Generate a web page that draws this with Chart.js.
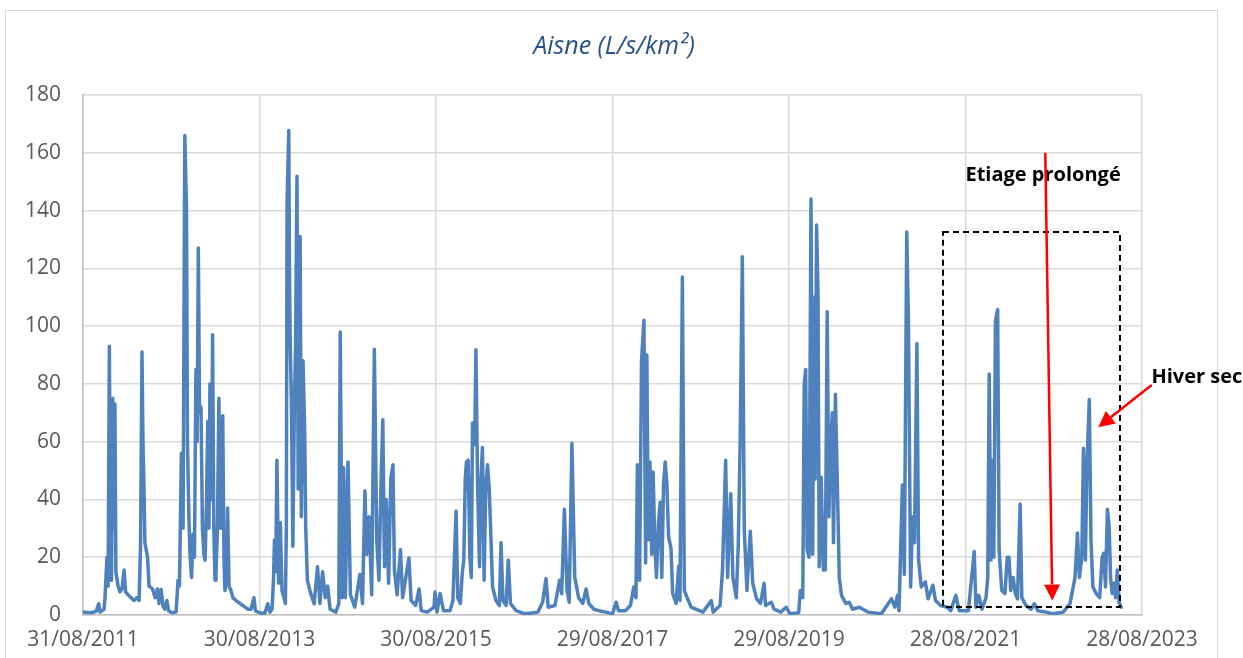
<!DOCTYPE html>
<html><head><meta charset="utf-8">
<script src="https://cdn.jsdelivr.net/npm/chart.js@4.4.1/dist/chart.umd.min.js"></script>
<style>html,body{margin:0;padding:0;background:#fff;}#wrap{position:relative;width:1243px;height:658px;}</style>
</head><body><div id="wrap"><canvas id="c" width="1243" height="658"></canvas></div>
<script>
// x tick labels (one every 730 days from 31/08/2011)
const tickLabels = ['31/08/2011','30/08/2013','30/08/2015','29/08/2017','29/08/2019','28/08/2021','28/08/2023'];
const titleText = 'Aisne (L/s/km²)';
// days since 31/08/2011
const days = [
0,29,54,65,70,87,91,99,104,109,114,118,123,127,132,136,145,153,161,170,176,186,199,211,223,232,238,244,248,252,256,267,273,288,298,308,314,323,331,339,347,354,368,385,393,399,407,414,421,428,432,438,443,449,455,461,467,472,477,482,488,494,500,505,511,516,521,525,531,536,541,546,550,556,562,569,573,578,583,587,594,598,604,612,620,633,649,666,682,695,707,713,724,732,
740,753,764,773,782,788,792,797,802,809,816,823,831,837,841,844,851,854,857,862,868,874,879,885,890,898,903,910,917,921,928,942,956,970,980,991,1002,1012,1022,1046,1058,1064,1072,1078,1085,1096,1106,1124,1145,1156,1166,1173,1183,1194,1205,1215,1224,1233,1240,1247,1254,1264,1273,1282,1288,1299,1313,1322,1348,1357,1376,1390,1399,1424,1452,1456,1464,1477,1491,1518,1530,1543,1550,1561,1568,1575,1581,1586,1593,1600,1606,1611,1620,1625,1632,1640,1645,1652,1659,1666,1673,1680,1687,1694,1708,1722,1729,1737,1750,1759,1768,1791,1828,1882,1901,1915,1924,1952,1971,1980,1991,2002,2011,2022,2034,2050,2067,2081,2092,2113,2134,2162,2190,
2205,2215,2243,2264,2278,2287,2293,2302,2310,2320,2327,2332,2338,2345,2352,2358,2365,2372,2380,2387,2394,2401,2408,2415,2422,2432,2439,2453,2464,2469,2479,2487,2501,2515,2564,2599,2606,2635,2645,2658,2666,2679,2688,2702,2710,2718,2727,2735,2746,2760,2770,2786,2802,2817,2823,2847,2858,2886,2908,
2924,2960,2967,2977,2983,2989,2995,3003,3011,3018,3023,3028,3034,3040,3045,3053,3062,3070,3078,3085,3092,3099,3104,3112,3121,3128,3137,3155,3169,3183,3211,3246,3302,3344,3358,3369,3375,3389,3397,3407,3414,3423,3431,3439,3449,3456,3467,3484,3495,3515,3526,3547,3575,3589,3610,3624,
3662,3686,3693,3705,3718,3735,3742,3748,3755,3760,3767,3774,3783,3789,3800,3813,3823,3830,3837,3847,3856,3865,3876,3883,3900,3921,3935,3949,3984,4012,4054,4082,4093,4103,4113,4121,4131,4138,4146,4152,4162,4169,4177,4191,4205,4215,4222,4229,4237,4244,4250,4257,4264,4271,4278,4285,4294
];
// specific discharge (L/s/km2)
const flow = [
1.0,0.8,1.2,3.9,1.0,2,6,20,10,93,20,12,75,30,73,15,10,8,9,15.6,8,7,6,5,6,5,24,91,60,45,25,20,10,9,6,9,4,8.8,3,2,5,1.5,0.8,1,12,10,56,30,166,141,60,33.7,20,13,28,20,85,60,127,70,72,30,21,19,40,67,30,80,40,97,30,12,14,30,75,30,40,69,20,8.5,12,37,10,8.5,6,5,4,3,2,2,6,1.5,1,0.8,
0.5,0.8,3.9,1,2,12.6,26,15,53.6,11,32,8.5,6,4,30,143,167.7,120,94,74,23.8,70.5,92.8,151.9,43.6,131,34,88,63.5,31,12,7.4,3.9,16.7,4,15,6,10,2,1,4,98,6,51,6,53,7,2.7,14,4,43,21,34,7,92,26,12,47,67.6,16.7,40,11,47,52,15.6,7,22.6,6,19.7,5,3.3,9,1.5,1,2.7,8,1,7.4,1.5,1.5,5,36,6,4,14,19,47,53,53.6,20,13,66.5,59,91.8,45,16.7,45,58,12,45,52,44,27,9.7,5,3.3,25,5,3.3,19,4,1.5,0.4,1,4.4,12.6,2.7,3.3,12,7.4,36.6,8.5,4.4,59.4,13,6,4,9,4,2,1.5,1,0.4,
4.4,1.5,1.5,3.3,9.7,6,52,12,88,102,18,90,26,53,21,49.5,23.8,13,32,39,13,45,53,45,27,23,7.4,4,17,5,117,8.5,5.6,2.7,1,5,1,3.3,15.6,53.6,13,42,13,6,23.8,60,124,29.6,8.5,29,11,5.6,4,11,3.3,4.4,2,1,2.7,
0.4,0.8,8.5,6,80,85,22.6,20,144,21,110,47,135,111.5,16.7,47.7,15.6,15.6,105,34,57.7,70,25,76.4,41,13,6.8,4,4.4,2,2.7,1,0.4,5.6,2.7,6.8,1.5,45,14,132.6,101,9.7,34,25,94,19,9.7,11.5,5.6,10.3,5,3.3,2.7,1.5,6.8,1.5,
1.5,22,2.7,6.8,2,6,13,83.4,19,53.6,20,102,105.7,22.6,8.5,7.4,20,20,8.5,13,7.4,5.6,38.4,6,3.3,2,3.9,1.5,1,0.4,1,3.9,8.5,13,28.4,13,20,57.7,19,50.7,74.6,26,9.7,7.4,6,19.7,21.4,9.7,36.6,30.8,13,7.4,11,6,15.6,4.4,2.7
];

const points = days.map((d, i) => ({x: d, y: flow[i]}));

// annotations in data units (days, L/s/km2)
const notes = {
  box: {x0: 3557, x1: 4289, y0: 2.8, y1: 132.6},
  arrows: [
    {from: [3980, 160], to: [4009, 5]},
    {from: [4420, 79.6], to: [4199, 65]}
  ],
  labels: [
    {x: 3971, y: 152.3, text: 'Etiage prolongé', align: 'center'},
    {x: 4419, y: 82.3, text: 'Hiver sec', align: 'left'}
  ]
};

const frame = {
  id: 'frame',
  beforeDraw(chart) {
    const ctx = chart.ctx;
    ctx.save();
    ctx.fillStyle = '#fff';
    ctx.fillRect(0, 0, chart.width, chart.height);
    ctx.strokeStyle = '#d9d9d9';
    ctx.lineWidth = 1;
    ctx.strokeRect(5.5, 10.5, 1212, 700);
    ctx.fillStyle = '#2a528a';
    ctx.font = 'italic 25px "Open Sans"';
    ctx.textAlign = 'center';
    ctx.textBaseline = 'middle';
    ctx.fillText(titleText, 614, 47);
    ctx.restore();
  }
};

const annot = {
  id: 'annot',
  afterDatasetsDraw(chart) {
    const ctx = chart.ctx, xs = chart.scales.x, ys = chart.scales.y;
    const px = v => xs.getPixelForValue(v), py = v => ys.getPixelForValue(v);
    ctx.save();
    const b = notes.box;
    ctx.strokeStyle = '#000';
    ctx.lineWidth = 2;
    ctx.setLineDash([6, 4]);
    ctx.strokeRect(px(b.x0), py(b.y1), px(b.x1) - px(b.x0), py(b.y0) - py(b.y1));
    ctx.setLineDash([]);
    ctx.fillStyle = '#000';
    ctx.font = 'bold 20px "Open Sans"';
    ctx.textBaseline = 'middle';
    notes.labels.forEach(l => { ctx.textAlign = l.align; ctx.fillText(l.text, px(l.x), py(l.y)); });
    ctx.strokeStyle = '#ff0000';
    ctx.fillStyle = '#ff0000';
    ctx.lineWidth = 2.5;
    notes.arrows.forEach(a => {
      const x0 = px(a.from[0]), y0 = py(a.from[1]), x1 = px(a.to[0]), y1 = py(a.to[1]);
      const ang = Math.atan2(y1 - y0, x1 - x0), hl = 16, hw = 8;
      const bx = x1 - hl * Math.cos(ang), by = y1 - hl * Math.sin(ang);
      ctx.beginPath(); ctx.moveTo(x0, y0); ctx.lineTo(bx, by); ctx.stroke();
      ctx.beginPath();
      ctx.moveTo(x1, y1);
      ctx.lineTo(bx + hw * Math.sin(ang), by - hw * Math.cos(ang));
      ctx.lineTo(bx - hw * Math.sin(ang), by + hw * Math.cos(ang));
      ctx.closePath(); ctx.fill();
    });
    ctx.restore();
  }
};

const tickFont = {family: '"Open Sans"', size: 21};
new Chart(document.getElementById('c'), {
  type: 'line',
  data: {datasets: [{
    data: points,
    borderColor: '#4f81bd',
    borderWidth: 3.5,
    borderJoinStyle: 'round',
    borderCapStyle: 'round',
    pointRadius: 0,
    tension: 0,
    fill: false
  }]},
  options: {
    responsive: false,
    devicePixelRatio: 1,
    animation: false,
    parsing: false,
    layout: {padding: {top: 95, right: 101, bottom: 0, left: 0}},
    plugins: {legend: {display: false}, title: {display: false}, tooltip: {enabled: false}},
    scales: {
      x: {
        type: 'linear', min: 0, max: 4380,
        afterFit(s) { s.height = 43; },
        ticks: {stepSize: 730, autoSkip: false, maxRotation: 0, color: '#595959', font: tickFont, padding: 12,
          callback: v => tickLabels[Math.round(v / 730)]},
        grid: {color: '#d9d9d9', lineWidth: 1.5, drawTicks: false},
        border: {color: '#bfbfbf', width: 1.5}
      },
      y: {
        min: 0, max: 180,
        afterFit(s) { s.width = 83; },
        ticks: {stepSize: 20, color: '#595959', font: tickFont, padding: 22},
        grid: {color: '#d9d9d9', lineWidth: 1.5, drawTicks: false},
        border: {color: '#bfbfbf', width: 1.5}
      }
    }
  },
  plugins: [frame, annot]
});
</script></body></html>
